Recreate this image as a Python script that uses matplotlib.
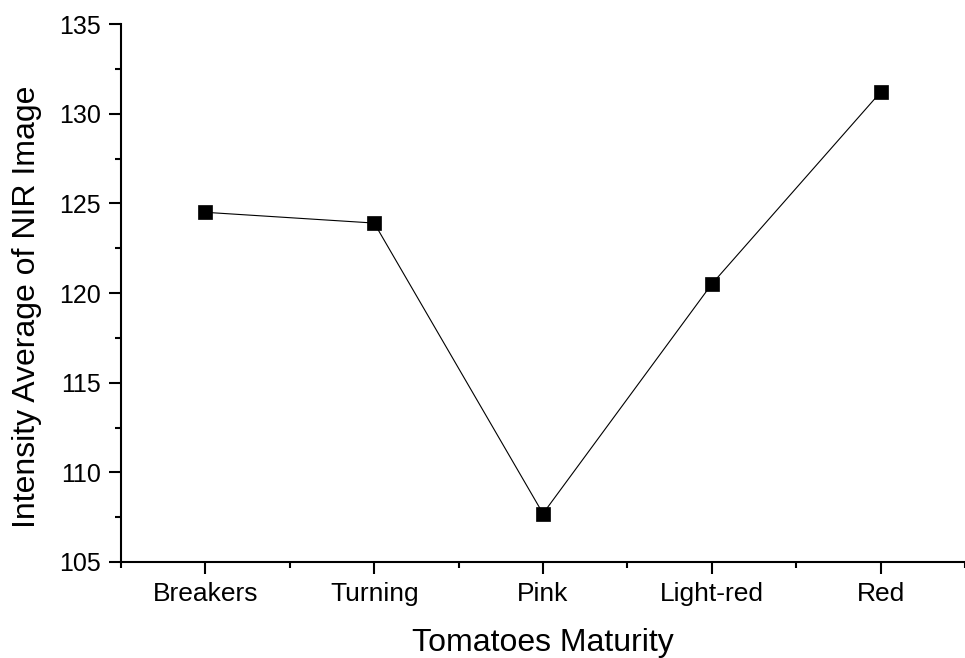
import matplotlib
matplotlib.use("Agg")
import matplotlib.pyplot as plt
from matplotlib.ticker import MultipleLocator, FixedLocator

stages = ["Breakers", "Turning", "Pink", "Light-red", "Red"]
intensity = [124.5, 123.9, 107.7, 120.5, 131.2]

plt.rcParams['font.family'] = ['Liberation Sans', 'DejaVu Sans']

fig = plt.figure(figsize=(9.65, 6.58), dpi=100)
ax = fig.add_axes([0.1254, 0.1459, 0.8746, 0.8176])

x = list(range(1, len(stages) + 1))
ax.plot(x, intensity, color="black", linewidth=0.8,
        marker="s", markersize=10, markerfacecolor="black",
        markeredgecolor="black", markeredgewidth=0.5, clip_on=False)

ax.set_xlim(0.5, 5.5)
ax.set_ylim(105, 135)
ax.set_xticks(x)
ax.set_xticklabels(stages)
ax.xaxis.set_minor_locator(FixedLocator([0.5, 1.5, 2.5, 3.5, 4.5, 5.5]))
ax.yaxis.set_major_locator(MultipleLocator(5))
ax.yaxis.set_minor_locator(MultipleLocator(2.5))

for side in ["top", "right"]:
    ax.spines[side].set_visible(False)
for side in ["left", "bottom"]:
    ax.spines[side].set_linewidth(1.5)

ax.tick_params(which="major", direction="out", length=8.5, width=1.5, labelsize=19, pad=6)
ax.tick_params(axis="y", which="major", labelsize=18)
ax.tick_params(which="minor", direction="out", length=4.3, width=1.5)

ax.set_xlabel("Tomatoes Maturity", fontsize=23, labelpad=16)
ax.set_ylabel("Intensity Average of NIR Image", fontsize=23, labelpad=12)
ax.yaxis.label.set_y(0.475)

fig.savefig("out.png", dpi=100)
